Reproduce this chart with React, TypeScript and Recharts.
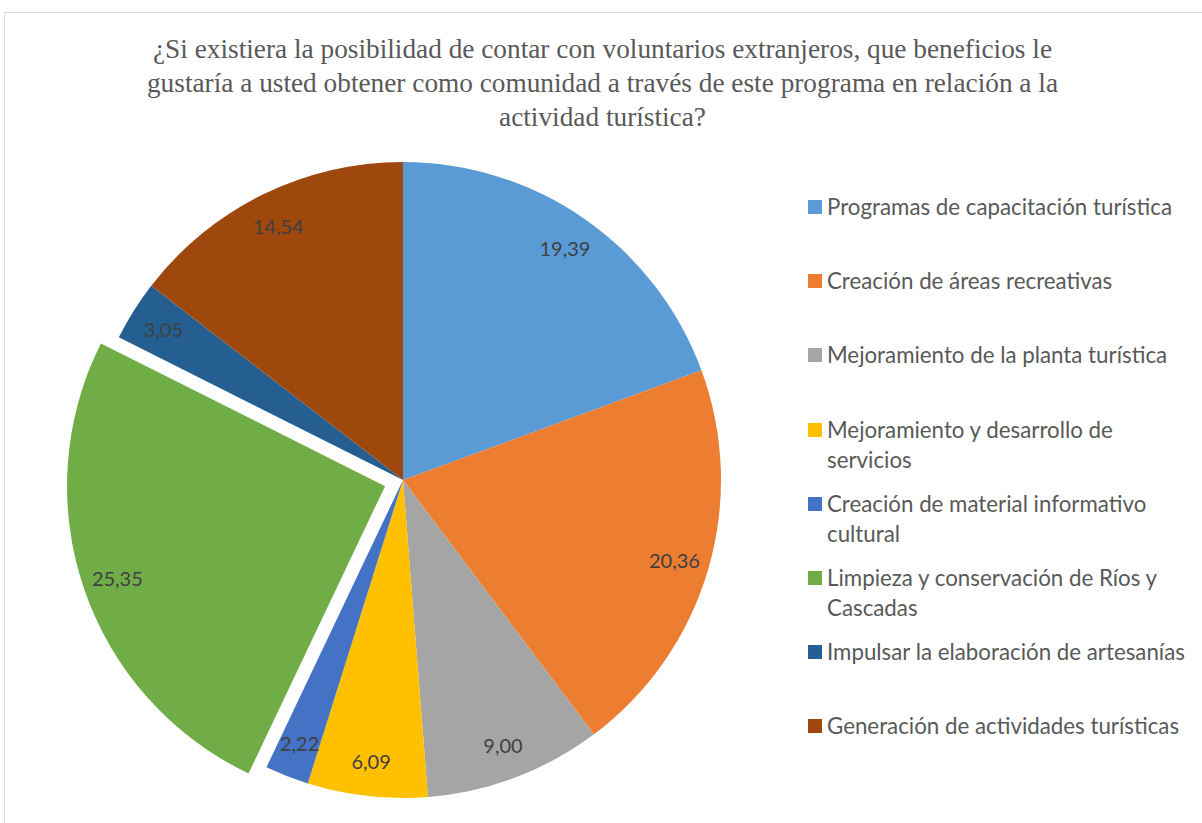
import React from 'react';
import { PieChart, Pie, Cell, Legend } from 'recharts';

const TITLE_LINES = [
  '¿Si existiera la posibilidad de contar con voluntarios extranjeros, que beneficios le',
  'gustaría a usted obtener como comunidad a través de este programa en relación a la',
  'actividad turística?',
];

const CATEGORIES = [
  'Programas de capacitación turística',
  'Creación de áreas recreativas',
  'Mejoramiento de la planta turística',
  'Mejoramiento y desarrollo de servicios',
  'Creación de material informativo cultural',
  'Limpieza y conservación de Ríos y Cascadas',
  'Impulsar la elaboración de artesanías',
  'Generación de actividades turísticas',
];

const VALUES = [19.39, 20.36, 9.0, 6.09, 2.22, 25.35, 3.05, 14.54];

const COLORS = ['#5B9BD5', '#ED7D31', '#A5A5A5', '#FFC000', '#4472C4', '#70AD47', '#255E91', '#9E480E'];

const EXPLODED = 5; // the green slice is pulled out

const data = CATEGORIES.map((name, i) => ({ name, value: VALUES[i] }));

const CX = 403;
const CY = 480;
const R = 318;
const PULL = 19;

// shift for the exploded slice, along its mid angle
const total = VALUES.reduce((a, b) => a + b, 0);
const before = VALUES.slice(0, EXPLODED).reduce((a, b) => a + b, 0);
const midDeg = ((before + VALUES[EXPLODED] / 2) / total) * 360;
const offX = PULL * Math.sin((midDeg * Math.PI) / 180);
const offY = -PULL * Math.cos((midDeg * Math.PI) / 180);

const RAD = Math.PI / 180;
const fmt = (v: number) => v.toFixed(2).replace('.', ',');

const makeLabel = (show: (i: number) => boolean) => (props: any) => {
  const { cx, cy, midAngle, outerRadius, index, value } = props;
  if (!show(index)) return null;
  const r = outerRadius * 0.89;
  const x = cx + r * Math.cos(-midAngle * RAD);
  const y = cy + r * Math.sin(-midAngle * RAD);
  return (
    <text x={x} y={y} fill="#404040" fontSize={20} fontFamily="Lato, sans-serif" textAnchor="middle" dominantBaseline="central">
      {fmt(value)}
    </text>
  );
};

const LegendBox = () => (
  <div style={{ fontFamily: 'Lato, sans-serif', fontSize: 22.3, color: '#595959' }}>
    {CATEGORIES.map((c, i) => (
      <div key={c} style={{ display: 'flex', alignItems: 'flex-start', height: 74.2 }}>
        <div style={{ width: 14, height: 14, background: COLORS[i], marginTop: 8, marginRight: 5, flexShrink: 0 }} />
        <div style={{ lineHeight: '30px', width: 368 }}>{c}</div>
      </div>
    ))}
  </div>
);

export default function App() {
  return (
    <div style={{ position: 'absolute', left: 0, top: 0, width: 1202, height: 823, overflow: 'hidden', background: '#fff' }}>
      <div style={{ position: 'absolute', left: 4, top: 12, width: 1220, height: 840, border: '1px solid #d9d9d9' }} />
      <div
        style={{
          position: 'absolute',
          left: 0,
          top: 32,
          width: 1205,
          textAlign: 'center',
          fontFamily: '"Liberation Serif", "Times New Roman", serif',
          fontSize: 27.3,
          lineHeight: '34px',
          color: '#595959',
        }}
      >
        {TITLE_LINES.map((t) => (
          <div key={t}>{t}</div>
        ))}
      </div>
      <div style={{ position: 'absolute', left: 0, top: 0 }}>
        <PieChart width={1202} height={823} margin={{ top: 0, right: 0, bottom: 0, left: 0 }}>
          <Pie
            data={data}
            dataKey="value"
            nameKey="name"
            cx={CX}
            cy={CY}
            outerRadius={R}
            startAngle={90}
            endAngle={-270}
            stroke="none"
            labelLine={false}
            label={makeLabel((i) => i !== EXPLODED)}
            isAnimationActive={false}
          >
            {data.map((d, i) => (
              <Cell key={d.name} fill={i === EXPLODED ? 'transparent' : COLORS[i]} />
            ))}
          </Pie>
          <Pie
            data={data}
            dataKey="value"
            nameKey="name"
            cx={CX + offX}
            cy={CY + offY}
            outerRadius={R}
            startAngle={90}
            endAngle={-270}
            stroke="none"
            labelLine={false}
            label={makeLabel((i) => i === EXPLODED)}
            isAnimationActive={false}
          >
            {data.map((d, i) => (
              <Cell key={d.name} fill={i === EXPLODED ? COLORS[i] : 'transparent'} />
            ))}
          </Pie>
          <Legend
            content={() => <LegendBox />}
            wrapperStyle={{ position: 'absolute', left: 808, top: 192, width: 390 }}
          />
        </PieChart>
      </div>
    </div>
  );
}
